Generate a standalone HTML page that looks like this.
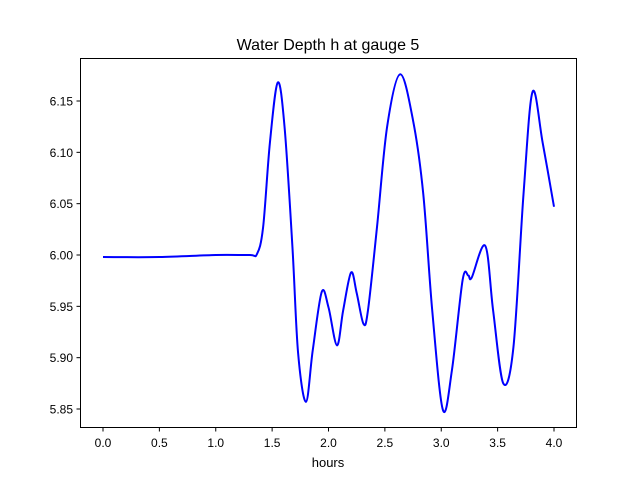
<!DOCTYPE html>
<html><head><meta charset="utf-8"><style>body{margin:0;background:#fff}svg{display:block;font-family:"Liberation Sans","DejaVu Sans",sans-serif}</style></head>
<body>
<svg id="chart" width="640" height="480">
<rect x="0" y="0" width="640" height="480" fill="#fff"/>
<text x="328" y="50" font-size="16" text-anchor="middle">Water Depth h at gauge 5</text>
<g id="ticks"></g>
<path id="line" fill="none" stroke="#0000ff" stroke-width="2"/>
<rect x="80.5" y="58.5" width="496" height="369" fill="none" stroke="#000" stroke-width="1"/>
<text x="328" y="467" font-size="13" text-anchor="middle">hours</text>
</svg>
<script>
const hours=[0,0.5,1.0,1.3,1.366,1.42,1.48,1.55,1.61,1.68,1.73,1.80,1.86,1.94,2.0,2.075,2.13,2.20,2.25,2.31,2.35,2.43,2.52,2.635,2.75,2.84,2.92,3.015,3.095,3.19,3.24,3.27,3.39,3.46,3.55,3.64,3.73,3.81,3.90,4.0];
const depth=[5.998,5.998,6.000,6.000,6.001,6.027,6.109,6.168,6.125,6.008,5.905,5.857,5.907,5.964,5.949,5.912,5.946,5.983,5.963,5.933,5.946,6.027,6.125,6.176,6.131,6.060,5.946,5.849,5.888,5.976,5.980,5.978,6.009,5.946,5.875,5.910,6.060,6.159,6.109,6.047];
const xTicks=[0,0.5,1.0,1.5,2.0,2.5,3.0,3.5,4.0];
const yTicks=[5.85,5.90,5.95,6.00,6.05,6.10,6.15];
function X(t){return 103+t*112.75;}
function Y(v){return 101+(6.15-v)*1026.7;}
const NS='http://www.w3.org/2000/svg';
const g=document.getElementById('ticks');
xTicks.forEach(t=>{
 const l=document.createElementNS(NS,'line');
 
 
 l.setAttribute('x1',X(t));l.setAttribute('x2',X(t));l.setAttribute('y1',427.5);l.setAttribute('y2',431.5);l.setAttribute('stroke','#000');g.appendChild(l);
 const s=document.createElementNS(NS,'text');
 
 
 s.setAttribute('x',X(t));s.setAttribute('y',447);s.setAttribute('font-size','12');s.setAttribute('text-anchor','middle');s.textContent=t.toFixed(1);g.appendChild(s);
});
yTicks.forEach(v=>{
 const l=document.createElementNS(NS,'line');
 
 
 l.setAttribute('x1',76.5);l.setAttribute('x2',80.5);l.setAttribute('y1',Y(v));l.setAttribute('y2',Y(v));l.setAttribute('stroke','#000');g.appendChild(l);
 const s=document.createElementNS(NS,'text');
 
 
 s.setAttribute('x',73);s.setAttribute('y',Y(v)+4.5);s.setAttribute('font-size','12');s.setAttribute('text-anchor','end');s.textContent=v.toFixed(2);g.appendChild(s);
});
const P=hours.map((t,i)=>[X(t),Y(depth[i])]);
let d='M'+P[0][0]+','+P[0][1];
for(let i=0;i<P.length-1;i++){
 const p0=P[Math.max(i-1,0)],p1=P[i],p2=P[i+1],p3=P[Math.min(i+2,P.length-1)];
 const c1=[p1[0]+(p2[0]-p0[0])/6,p1[1]+(p2[1]-p0[1])/6];
 const c2=[p2[0]-(p3[0]-p1[0])/6,p2[1]-(p3[1]-p1[1])/6];
 d+=' C'+c1+' '+c2+' '+p2;
}
document.getElementById('line').setAttribute('d',d);
</script>
</body></html>
